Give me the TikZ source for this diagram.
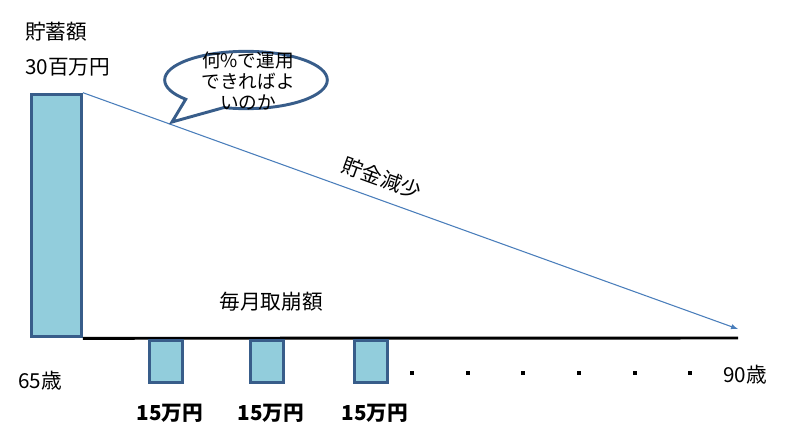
\documentclass[tikz,border=0pt]{standalone}
\usepackage{fontspec}
\setmainfont{Noto Sans CJK JP}
\usetikzlibrary{shapes.callouts,positioning}
\definecolor{barfill}{RGB}{146,205,220}
\definecolor{barline}{RGB}{56,93,138}
\definecolor{arrline}{RGB}{74,126,187}
\begin{document}
\begin{tikzpicture}[x=0.75pt, y=-0.75pt,
                    txt/.style={inner sep=0, font=\fontsize{15.5}{18}\selectfont},
                    amount/.style={inner sep=0, font=\fontsize{15.5}{18}\selectfont\bfseries},
                    bigbar/.style={draw=barline, fill=barfill, line width=2.2pt, rectangle, minimum width=37.5pt, minimum height=182pt, inner sep=0},
                    smallbar/.style={draw=barline, fill=barfill, line width=2.2pt, rectangle, minimum width=25pt, minimum height=32pt, inner sep=0},
                    dotmark/.style={fill=black, rectangle, minimum size=3pt, inner sep=0},
                    arrow/.style={draw=arrline, line width=0.8pt, -latex},
                    bubble/.style={ellipse callout, draw=barline, fill=white, line width=2.2pt, minimum width=122pt, minimum height=43pt, inner sep=0, callout pointer arc=32},
                    bubbletxt/.style={inner sep=0, align=center, font=\fontsize{14}{15.5}\selectfont}]
  \useasboundingbox (0,0) rectangle (794,437);
  % savings at 65
  \node(savings)[bigbar] at (56.5,215.5){};
  \node(savings_lbl)[txt, anchor=west] at (25,32){貯蓄額};
  \node(savings_amt)[txt, anchor=west] at (25,67){30百万円};
  \node(age_start)[txt, anchor=west] at (18,381){65歳};
  \node(age_end)[txt, anchor=west] at (723,375){90歳};
  % time axis and decline
  \coordinate(axis_end) at (738,338);
  \coordinate(decl_end) at (738,329);
  \draw[line width=2.2pt] (savings.south east) -- (axis_end);
  \draw[arrow] (savings.north east) -- (decl_end);
  \node(decl_lbl)[txt, rotate=-20] at (382,178){貯金減少};
  \node(draw_lbl)[txt] at (271,302){毎月取崩額};
  % monthly withdrawals
  \foreach \i/\x in {1/166, 2/267, 3/371}{
    \node(wd\i)[smallbar] at (\x,361.5){};
    \node(wd\i_amt)[amount] at (\x+4,413){15万円};
  }
  \foreach \i/\x in {1/412, 2/468, 3/523, 4/579, 5/635, 6/690}
    \node(dot\i)[dotmark] at (\x,373){};
  % question bubble
  \coordinate(tip) at (172,122);
  \node(question)[bubble, callout absolute pointer={(tip)}] at (246,80){};
  \node(question_txt)[bubbletxt] at (248,81){何\%で運用\\できればよ\\いのか};
\end{tikzpicture}
\end{document}
